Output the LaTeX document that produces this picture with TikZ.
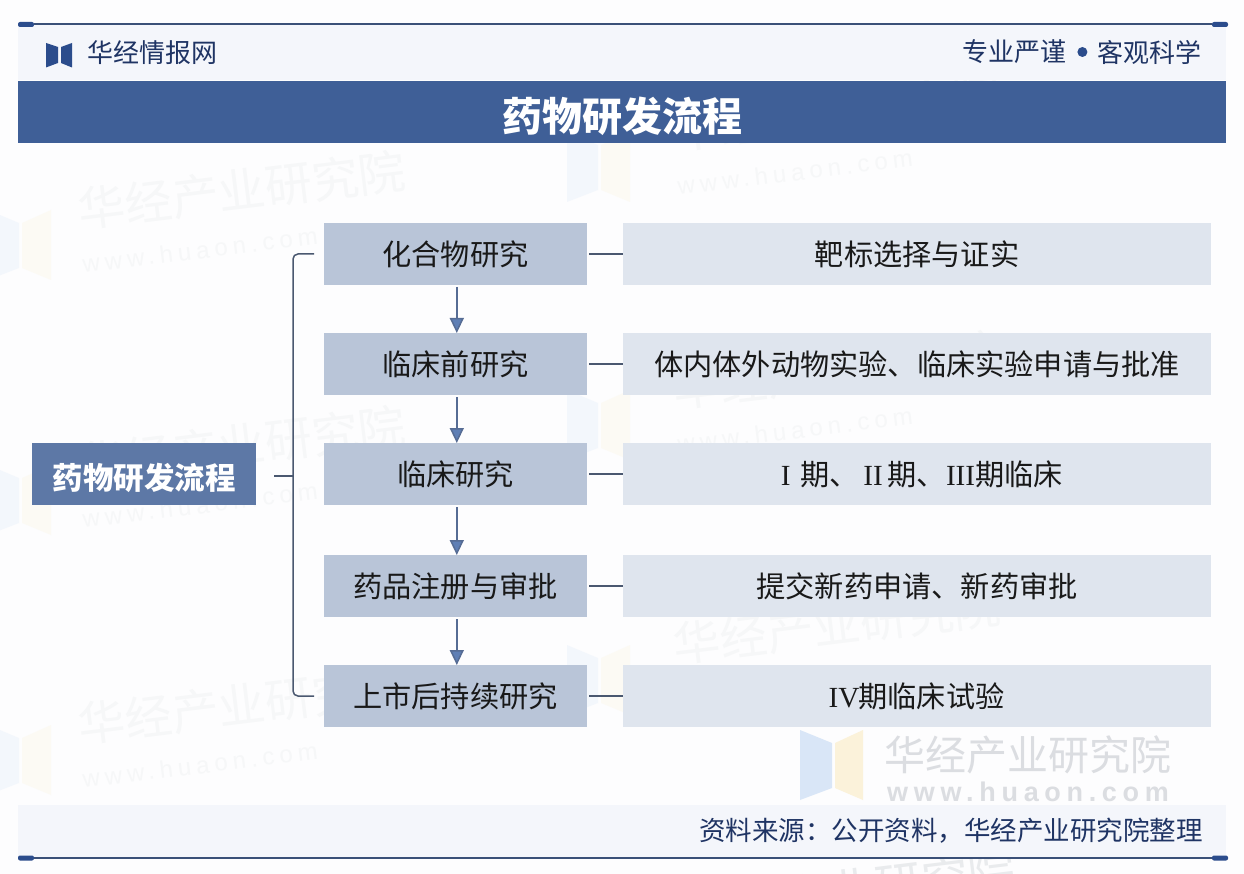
\documentclass[tikz,border=0pt]{standalone}
\usepackage{fontspec}
\setmainfont{Noto Sans CJK SC}
\newfontfamily\urlfont[LetterSpace=21]{Liberation Sans}
\newfontfamily\romanfont{Liberation Serif}
\newcommand{\rn}[1]{\makebox[29pt]{\romanfont #1}}
\usepackage{tikz}
\usetikzlibrary{positioning,arrows.meta}
\definecolor{pagefill}{HTML}{FDFDFE}
\definecolor{panelfill}{HTML}{F4F6FB}
\definecolor{bandfill}{HTML}{3F5F97}
\definecolor{rootfill}{HTML}{5D78A6}
\definecolor{stagefill}{HTML}{B9C5D8}
\definecolor{detailfill}{HTML}{DFE5EE}
\definecolor{rulecolor}{HTML}{3A5078}
\definecolor{capcolor}{HTML}{2B4C8C}
\definecolor{headtext}{HTML}{1F3464}
\definecolor{stemcolor}{HTML}{4A5870}
\definecolor{arrowfill}{HTML}{5F7FB5}
\definecolor{arrowstem}{HTML}{566C94}
\definecolor{markgray}{HTML}{DBDDE1}
\definecolor{faintgray}{HTML}{F6F7F8}
\definecolor{markblue}{HTML}{D9E6F7}
\definecolor{markyellow}{HTML}{FBF2DA}
\begin{document}
\begin{tikzpicture}
        [ x = 1pt, y = -1pt
        , panel/.style =
          { fill=panelfill, minimum width=1208pt, inner sep=0pt, outer sep=0pt }
        , titleband/.style =
          { fill=bandfill, text=white, minimum width=1208pt, minimum height=62pt
          , inner sep=0pt, outer sep=0pt, text height=42pt, text depth=3pt
          , font=\fontsize{40}{40}\selectfont\bfseries }
        , rootbox/.style =
          { fill=rootfill, text=white, minimum width=224pt, minimum height=62pt
          , inner sep=0pt, outer sep=0pt, text height=33pt, text depth=2pt
          , font=\fontsize{30.5}{30}\selectfont\bfseries }
        , stagebox/.style =
          { fill=stagefill, text=black!90, minimum width=263pt, minimum height=62pt
          , inner sep=0pt, outer sep=0pt, font=\fontsize{29.2}{29}\selectfont }
        , detailbox/.style =
          { fill=detailfill, text=black!90, minimum width=588pt, minimum height=62pt
          , inner sep=0pt, outer sep=0pt, font=\fontsize{29.2}{29}\selectfont }
        , headlabel/.style =
          { text=headtext, inner sep=0pt, font=\fontsize{26}{26}\selectfont }
        , capnode/.style =
          { fill=capcolor, minimum width=16pt, minimum height=5pt, inner sep=0pt
          , rounded corners=2pt }
        , rule/.style =
          { rulecolor, line width=2pt }
        , flow/.style =
          { -{Triangle[width=14pt,length=15pt,fill=arrowfill]}, arrowstem, line width=1.5pt, shorten <=2pt }
        , stem/.style =
          { stemcolor, line width=1.2pt, shorten <=2pt }
        , brace/.style =
          { stemcolor, line width=1.5pt, rounded corners=5pt }
        , faintmark/.style =
          { text=faintgray, rotate=7, inner sep=0pt, font=\fontsize{47}{47}\selectfont }
        , fainturl/.style =
          { text=faintgray, rotate=7, inner sep=0pt, font=\urlfont\fontsize{24}{24}\selectfont }
        ]
        \useasboundingbox (0,0) rectangle (1244,874);
        \clip (0,0) rectangle (1244,874);
        \fill [pagefill] (0,0) rectangle (1244,874);

        % faint watermarks behind everything
        \foreach \wx/\wy/\lx in {242/190/-12, 242/445/-12, 242/705/-12, 837/112/567, 837/370/567, 837/625/567}
          {
            \fill [markblue,opacity=.25] (\lx,\wy+20) -- (\lx+31,\wy+33) -- (\lx+31,\wy+78) -- (\lx,\wy+90) -- cycle;
            \fill [markyellow,opacity=.25] (\lx+34,\wy+33) -- (\lx+63,\wy+20) -- (\lx+63,\wy+90) -- (\lx+34,\wy+78) -- cycle;
            \node [faintmark] at (\wx,\wy) {华经产业研究院};
            \node [fainturl] at (\wx-42,\wy+60) {www.huaon.com};
          }
        \node [faintmark,text=markgray!60] (markclipped) at (852,890) {华经产业研究院};

        % header and footer
        \node [panel,minimum height=55pt] (headpanel) at (622,52.5) {};
        \node [panel,minimum height=52pt] (footpanel) at (622,831) {};
        \node [capnode] (capa) at (26,24.5) {};
        \node [capnode] (capb) at (1220,24.5) {};
        \node [capnode] (capc) at (26,858) {};
        \node [capnode] (capd) at (1220,858) {};
        \draw [rule] (capa) -- (capb);
        \draw [rule] (capc) -- (capd);

        % logo, drawn directly
        \fill [capcolor] (46,43) -- (58,47) -- (58,63) -- (46,67.5) -- cycle;
        \fill [capcolor] (61,47) -- (72,43) -- (72,67.5) -- (61,63) -- cycle;
        \node [headlabel] (brand) at (152,53) {华经情报网};
        \node [headlabel] (mottoa) at (1014,52) {专业严谨};
        \node [fill=capcolor,circle,minimum size=10pt,inner sep=0pt] (mottodot) [right=11pt of mottoa] {};
        \node [headlabel] (mottob) at (1149,52) {客观科学};

        \node [titleband] (title) at (622,112) {药物研发流程};

        % watermark at the lower right
        \fill [markblue] (800,730) -- (832,743) -- (832,788) -- (800,800) -- cycle;
        \fill [markyellow] (835,743) -- (863,730) -- (863,800) -- (835,788) -- cycle;
        \node [inner sep=0pt,text=markgray,font=\fontsize{41}{41}\selectfont] (markcn) at (1028,755) {华经产业研究院};
        \node [inner sep=0pt,text=markgray,font=\urlfont\fontsize{27}{27}\selectfont\bfseries] (markurl) at (1028,792) {www.huaon.com};

        \node [stagebox] (compound) at (455.5,254) {化合物研究};
        \node [stagebox] (preclinical) [below=48pt of compound] {临床前研究};
        \node [stagebox] (clinical) [below=48pt of preclinical] {临床研究};
        \node [stagebox] (approval) [below=50pt of clinical] {药品注册与审批};
        \node [stagebox] (postmarket) [below=48pt of approval] {上市后持续研究};

        \node [detailbox] (target) [right=36pt of compound] {靶标选择与证实};
        \node [detailbox] (animal) [right=36pt of preclinical] {体内体外动物实验、临床实验申请与批准};
        \node [detailbox] (phases) [right=36pt of clinical] {\rn{I}期、\rn{II}期、\rn{III}期临床};
        \node [detailbox] (submit) [right=36pt of approval] {提交新药申请、新药审批};
        \node [detailbox] (phasefour) [right=36pt of postmarket] {\rn{IV}期临床试验};

        \node [rootbox] (root) at (144,474) {药物研发流程};

        \draw [flow] ([xshift=1.3pt]compound.south) -- ([xshift=1.3pt]preclinical.north);
        \draw [flow] ([xshift=1.3pt]preclinical.south) -- ([xshift=1.3pt]clinical.north);
        \draw [flow] ([xshift=1.3pt]clinical.south) -- ([xshift=1.3pt]approval.north);
        \draw [flow] ([xshift=1.3pt]approval.south) -- ([xshift=1.3pt]postmarket.north);

        \draw [stem] (compound) -- (target);
        \draw [stem] (preclinical) -- (animal);
        \draw [stem] (clinical) -- (phases);
        \draw [stem] (approval) -- (submit);
        \draw [stem] (postmarket) -- (phasefour);

        \coordinate [left=10pt of compound] (bracetop);
        \coordinate [left=10pt of postmarket] (bracebottom);
        \coordinate [right=18pt of root,yshift=-2pt] (bracetip);
        \coordinate (braceknee) at (293,476);
        \draw [brace] (bracetop) -| (braceknee) |- (bracebottom);
        \draw [stem,line width=1.5pt,shorten <=0pt] (bracetip) -- (braceknee);

        \node [inner sep=0pt,text=headtext,font=\fontsize{26.5}{26}\selectfont,
               anchor=east,xshift=-23pt] (source) at (footpanel.east)
              {资料来源：公开资料，华经产业研究院整理};
      \end{tikzpicture}
\end{document}
